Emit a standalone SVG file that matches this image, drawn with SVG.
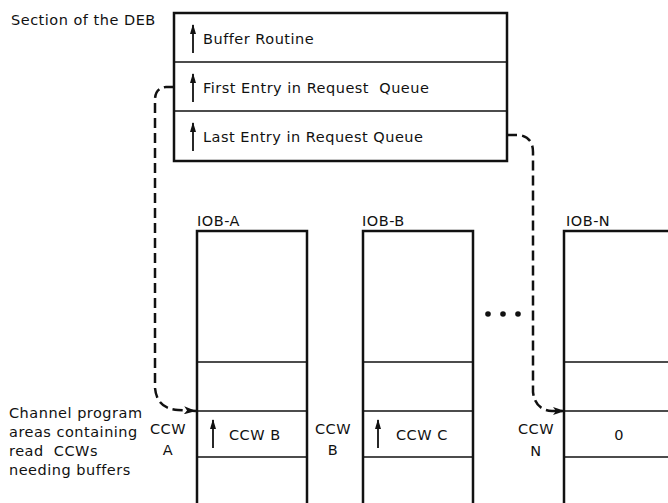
<svg xmlns="http://www.w3.org/2000/svg" width="668" height="503" viewBox="0 0 668 503">
<defs>
<style>
text{font-family:"DejaVu Sans","Liberation Sans",sans-serif;font-size:14.5px;fill:#111;letter-spacing:0.5px;white-space:pre}
.c{text-anchor:middle}
.box{fill:none;stroke:#111;stroke-width:2.5}
.div{stroke:#111;stroke-width:1.5}
.ptr{stroke:#111;stroke-width:1.8;marker-end:url(#up)}
.dash{fill:none;stroke:#111;stroke-width:2.5;stroke-dasharray:10 5}
</style>
<marker id="up" viewBox="0 0 10 6" refX="9" refY="3" markerWidth="10" markerHeight="6" markerUnits="userSpaceOnUse" orient="auto">
<path d="M0,0 L10,3 L0,6 Z" fill="#111"/>
</marker>
<marker id="ah" viewBox="0 0 12 8" refX="12" refY="4" markerWidth="12" markerHeight="8" markerUnits="userSpaceOnUse" orient="auto">
<path d="M0,0 L12,4 L0,8 L3,4 Z" fill="#111"/>
</marker>
</defs>

<text x="11" y="25">Section of the DEB</text>

<g id="deb">
<rect class="box" x="174" y="13" width="333" height="148"/>
<line class="div" x1="174" y1="62" x2="507" y2="62"/>
<line class="div" x1="174" y1="111" x2="507" y2="111"/>
<line class="ptr" x1="193" y1="53" x2="193" y2="25"/>
<line class="ptr" x1="193" y1="102" x2="193" y2="74"/>
<line class="ptr" x1="193" y1="151" x2="193" y2="123"/>
<text x="203" y="44">Buffer Routine</text>
<text x="203" y="93">First Entry in Request  Queue</text>
<text x="203" y="142">Last Entry in Request Queue</text>
</g>

<g id="iob-a">
<text x="197" y="226">IOB-A</text>
<path class="box" d="M197,503 V231 H307 V503"/>
<line class="div" x1="197" y1="362" x2="307" y2="362"/>
<line class="div" x1="197" y1="411" x2="307" y2="411"/>
<line class="div" x1="197" y1="457" x2="307" y2="457"/>
<line class="ptr" x1="213" y1="448" x2="213" y2="420"/>
<text x="229" y="440">CCW B</text>
</g>

<g id="iob-b">
<text x="362" y="226">IOB-B</text>
<path class="box" d="M363,503 V231 H473 V503"/>
<line class="div" x1="363" y1="362" x2="473" y2="362"/>
<line class="div" x1="363" y1="411" x2="473" y2="411"/>
<line class="div" x1="363" y1="457" x2="473" y2="457"/>
<line class="ptr" x1="378" y1="448" x2="378" y2="420"/>
<text x="396" y="440">CCW C</text>
</g>

<g id="iob-n">
<text x="566" y="226">IOB-N</text>
<path class="box" d="M564,503 V231 H670"/>
<line class="div" x1="564" y1="362" x2="668" y2="362"/>
<line class="div" x1="564" y1="411" x2="668" y2="411"/>
<line class="div" x1="564" y1="457" x2="668" y2="457"/>
<text class="c" x="619" y="440">0</text>
</g>

<g id="ccw-labels">
<text class="c" x="168" y="434">CCW</text>
<text class="c" x="168" y="455">A</text>
<text class="c" x="333" y="434">CCW</text>
<text class="c" x="333" y="455">B</text>
<text class="c" x="536" y="434">CCW</text>
<text class="c" x="536" y="456">N</text>
</g>

<g id="note">
<text x="9" y="418">Channel program</text>
<text x="9" y="437">areas containing</text>
<text x="9" y="456">read  CCWs</text>
<text x="9" y="475">needing buffers</text>
</g>

<g id="dots" fill="#111">
<circle cx="488" cy="314" r="2.8"/>
<circle cx="503" cy="314" r="2.8"/>
<circle cx="518" cy="314" r="2.8"/>
</g>

<g id="connectors">
<path class="dash" marker-end="url(#ah)" d="M174,87 H166 Q155,88 155,100 V388 Q157,409 178,410 L196,411"/>
<path class="dash" marker-end="url(#ah)" d="M507,135 H519 Q533,137 533,152 V392 Q535,410 552,411 L565,411"/>
</g>
</svg>
